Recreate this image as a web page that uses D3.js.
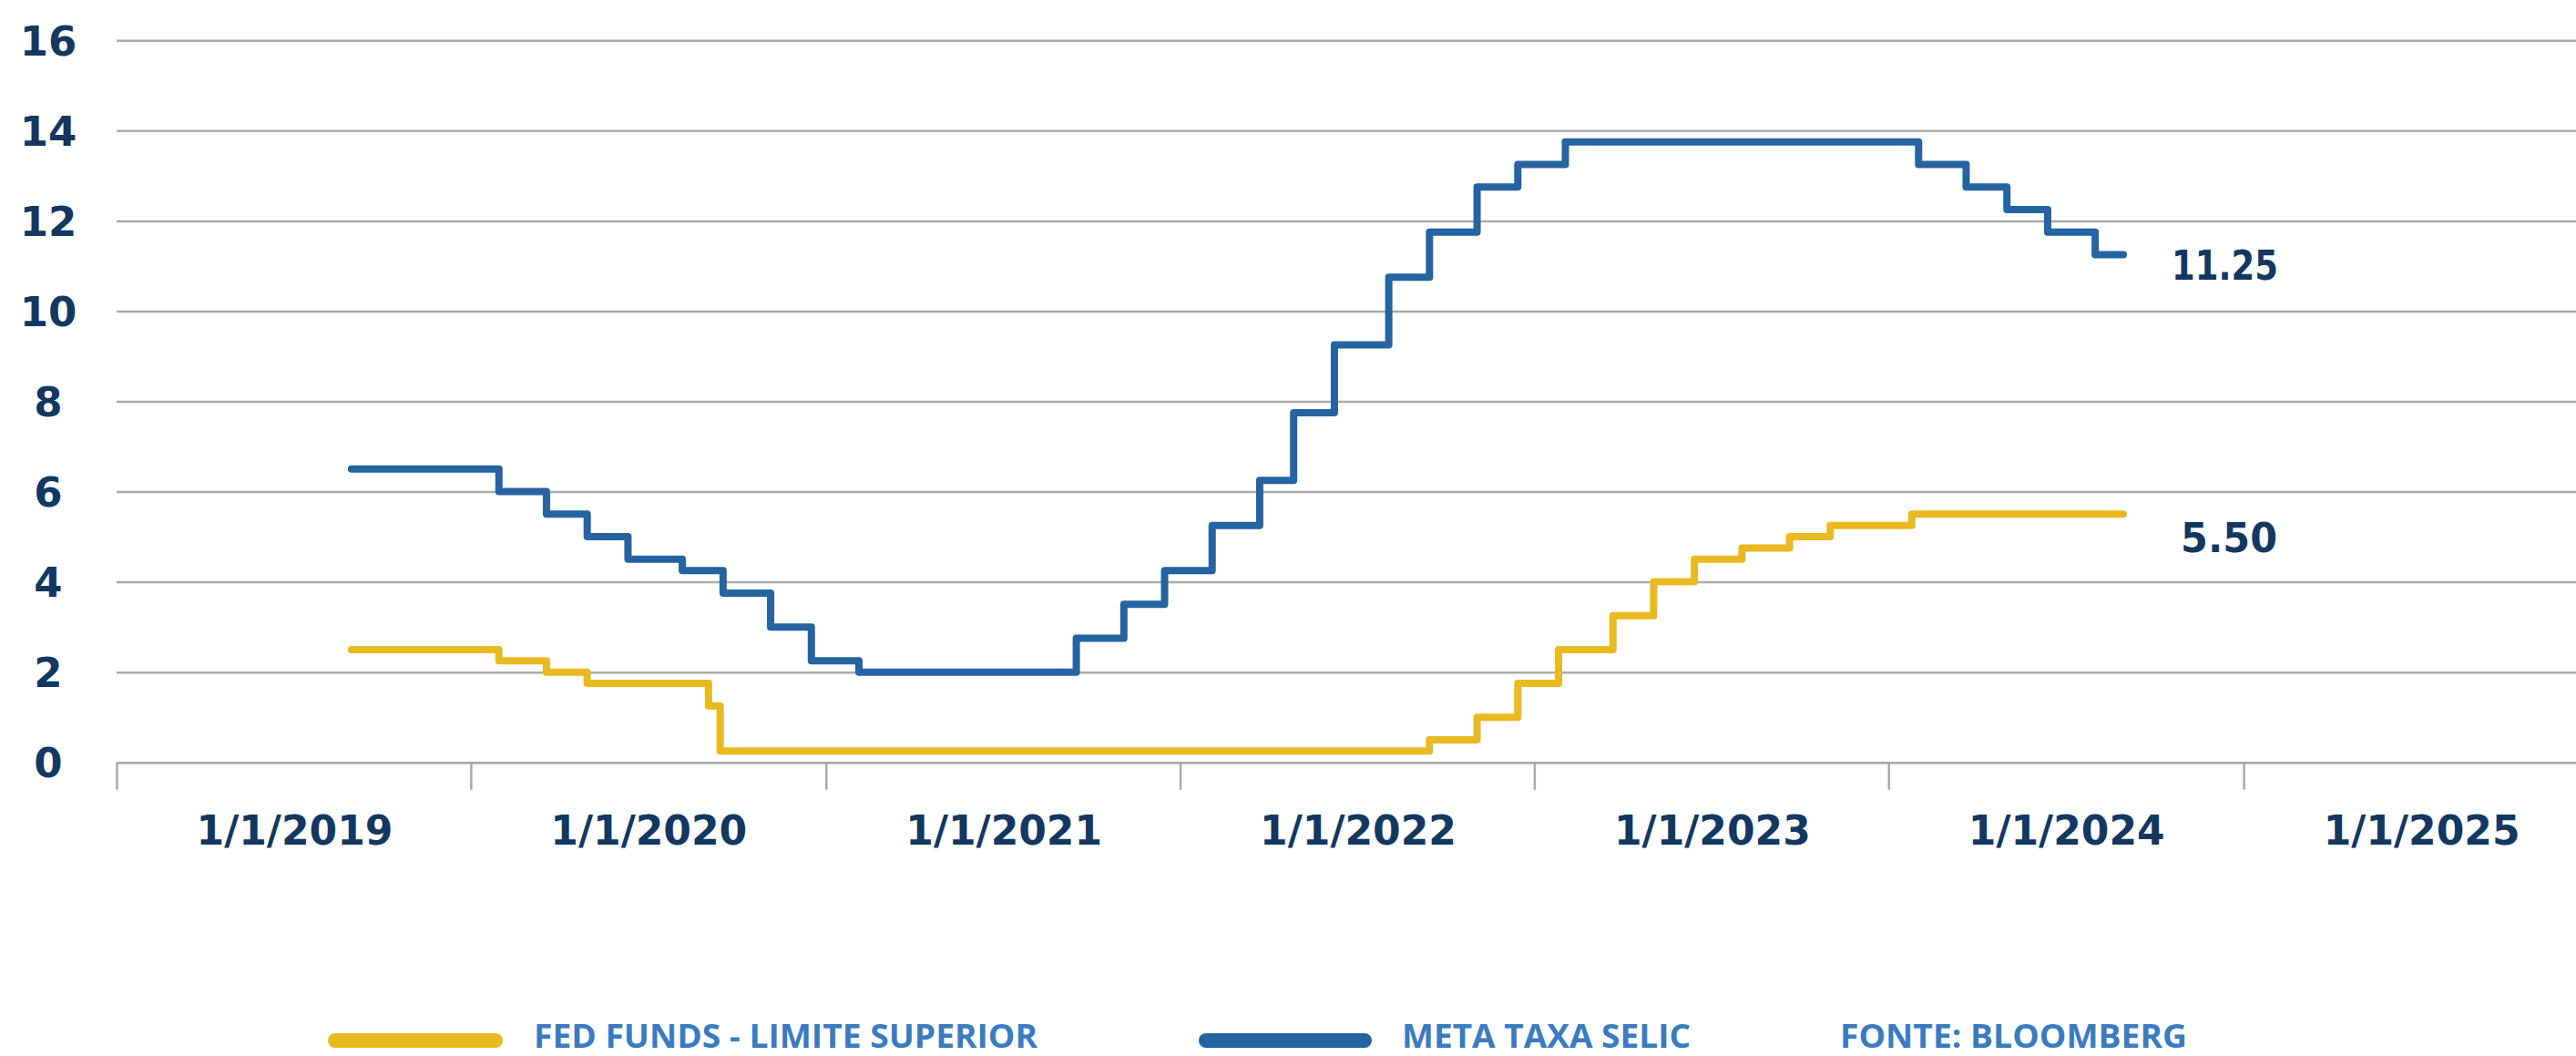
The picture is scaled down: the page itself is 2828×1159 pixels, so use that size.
<!DOCTYPE html>
<html>
<head>
    <meta charset="utf-8">
    <title>Selic x Fed Funds</title>
    <script src="https://d3js.org/d3.v7.min.js"></script>
    <style>
        body { margin: 0; background: #fff; }
    </style>
</head>
<body>
<div id="chart"></div>
<script>

    // Meta Taxa Selic (%), start of each step
    const selicDates = ["2019-03-01", "2019-07-31", "2019-09-18", "2019-10-30", "2019-12-11",
        "2020-02-05", "2020-03-18", "2020-05-06", "2020-06-17", "2020-08-05",
        "2021-03-17", "2021-05-05", "2021-06-16", "2021-08-04", "2021-09-22",
        "2021-10-27", "2021-12-08", "2022-02-02", "2022-03-16", "2022-05-04",
        "2022-06-15", "2022-08-03", "2023-08-02", "2023-09-20", "2023-11-01",
        "2023-12-13", "2024-01-31", "2024-02-29"];
    const selicValues = [6.5, 6.0, 5.5, 5.0, 4.5,
        4.25, 3.75, 3.0, 2.25, 2.0,
        2.75, 3.5, 4.25, 5.25, 6.25,
        7.75, 9.25, 10.75, 11.75, 12.75,
        13.25, 13.75, 13.25, 12.75, 12.25,
        11.75, 11.25, 11.25];

    // Fed Funds - limite superior (%)
    const fedDates = ["2019-03-01", "2019-07-31", "2019-09-18", "2019-10-30", "2020-03-03",
        "2020-03-15", "2022-03-16", "2022-05-04", "2022-06-15", "2022-07-27",
        "2022-09-21", "2022-11-02", "2022-12-14", "2023-02-01", "2023-03-22",
        "2023-05-03", "2023-07-26", "2024-02-29"];
    const fedValues = [2.5, 2.25, 2.0, 1.75, 1.25,
        0.25, 0.5, 1.0, 1.75, 2.5,
        3.25, 4.0, 4.5, 4.75, 5.0,
        5.25, 5.5, 5.5];

    const yTicks = [0, 2, 4, 6, 8, 10, 12, 14, 16];
    const xLabelDates = ["2019-01-01", "2020-01-01", "2021-01-01", "2022-01-01", "2023-01-01", "2024-01-01", "2025-01-01"];
    const xTickDates = ["2018-07-02", "2019-07-02", "2020-07-02", "2021-07-02", "2022-07-02", "2023-07-02", "2024-07-02"];
    const endLabels = ["11.25", "5.50"];
    const legendNames = ["FED FUNDS - LIMITE SUPERIOR", "META TAXA SELIC"];
    const sourceText = "FONTE: BLOOMBERG";

    const W = 2828, H = 1159;
    const left = 128;
    const navy = "#13375f";
    const blue = "#2563a1";
    const yellow = "#e8b921";
    const gridColor = "#a9a9a9";

    const parse = d3.utcParse("%Y-%m-%d");

    const svg = d3.select("#chart")
        .append("svg")
        .attr("width", W)
        .attr("height", H);

    // escalas
    const x = d3.scaleUtc()
        .domain([parse("2018-07-02"), parse("2025-07-02")])
        .range([left, 2852]);

    const y = d3.scaleLinear()
        .domain([0, 16])
        .range([836.7, 44.3]);

    // grade horizontal + rótulos do eixo y
    const yAxis = svg.append("g")
        .attr("transform", "translate(" + left + ",0)")
        .call(d3.axisLeft(y)
            .tickValues(yTicks)
            .tickSize(-(W - left))
            .tickFormat(d3.format("d")));
    yAxis.select(".domain").remove();
    yAxis.selectAll("line")
        .attr("stroke", gridColor)
        .attr("stroke-width", 2.5);
    yAxis.selectAll("text")
        .attr("x", 53 - left)
        .attr("dy", "0.36em")
        .attr("text-anchor", "middle")
        .attr("fill", navy)
        .attr("font-family", "DejaVu Sans")
        .attr("font-weight", "bold")
        .attr("font-size", 45);

    // marcas do eixo x (entre os rótulos)
    const xTicks = svg.append("g")
        .attr("transform", "translate(0," + y(0) + ")")
        .call(d3.axisBottom(x)
            .tickValues(xTickDates.map(parse))
            .tickSize(30)
            .tickSizeOuter(0)
            .tickFormat(""));
    xTicks.select(".domain")
        .attr("stroke", gridColor)
        .attr("stroke-width", 2.5);
    xTicks.selectAll("line")
        .attr("stroke", gridColor)
        .attr("stroke-width", 2.5);

    // rótulos de data
    const xLabels = svg.append("g")
        .attr("transform", "translate(0," + y(0) + ")")
        .call(d3.axisBottom(x)
            .tickValues(xLabelDates.map(parse))
            .tickSize(0)
            .tickFormat(d3.utcFormat("%-m/%-d/%Y")));
    xLabels.select(".domain").remove();
    xLabels.selectAll("text")
        .attr("y", 90)
        .attr("dy", null)
        .attr("fill", navy)
        .attr("font-family", "DejaVu Sans")
        .attr("font-weight", "bold")
        .attr("font-size", 44);

    // linhas em degrau
    const line = d3.line()
        .curve(d3.curveStepAfter)
        .x(d => x(d.date))
        .y(d => y(d.value));

    const fed = fedDates.map((d, i) => ({date: parse(d), value: fedValues[i]}));
    const selic = selicDates.map((d, i) => ({date: parse(d), value: selicValues[i]}));

    svg.append("path")
        .datum(fed)
        .attr("d", line)
        .attr("fill", "none")
        .attr("stroke", yellow)
        .attr("stroke-width", 8)
        .attr("stroke-linejoin", "round")
        .attr("stroke-linecap", "round");

    svg.append("path")
        .datum(selic)
        .attr("d", line)
        .attr("fill", "none")
        .attr("stroke", blue)
        .attr("stroke-width", 8)
        .attr("stroke-linejoin", "round")
        .attr("stroke-linecap", "round");

    // valores finais
    const lastSelic = selic[selic.length - 1];
    const lastFed = fed[fed.length - 1];

    svg.append("text")
        .attr("x", x(lastSelic.date) + 53)
        .attr("y", y(lastSelic.value) + 27)
        .attr("fill", navy)
        .attr("font-family", "DejaVu Sans")
        .attr("font-weight", "bold")
        .attr("font-size", 44)
        .attr("textLength", 117)
        .attr("lengthAdjust", "spacingAndGlyphs")
        .text(endLabels[0]);

    svg.append("text")
        .attr("x", x(lastFed.date) + 63)
        .attr("y", y(lastFed.value) + 42)
        .attr("fill", navy)
        .attr("font-family", "DejaVu Sans")
        .attr("font-weight", "bold")
        .attr("font-size", 44)
        .attr("textLength", 106)
        .attr("lengthAdjust", "spacingAndGlyphs")
        .text(endLabels[1]);

    // legenda
    const legend = svg.append("g");
    const legendColor = "#3a7bbf";

    legend.append("rect")
        .attr("x", 360).attr("y", 1134)
        .attr("width", 192).attr("height", 16)
        .attr("rx", 8)
        .attr("fill", yellow);

    legend.append("rect")
        .attr("x", 1316).attr("y", 1134)
        .attr("width", 190).attr("height", 16)
        .attr("rx", 8)
        .attr("fill", blue);

    const legendItems = [
        {text: legendNames[0], x: 586, len: 553},
        {text: legendNames[1], x: 1539, len: 317},
        {text: sourceText, x: 2020, len: 381}
    ];

    legend.selectAll("text.leg")
        .data(legendItems)
        .enter()
        .append("text")
        .attr("class", "leg")
        .attr("x", d => d.x)
        .attr("y", 1150)
        .attr("fill", legendColor)
        .attr("font-family", "'Liberation Sans Narrow', 'Open Sans', sans-serif")
        .attr("font-weight", "bold")
        .attr("font-size", 35)
        .attr("textLength", d => d.len)
        .attr("lengthAdjust", "spacingAndGlyphs")
        .text(d => d.text);

</script>
</body>
</html>
